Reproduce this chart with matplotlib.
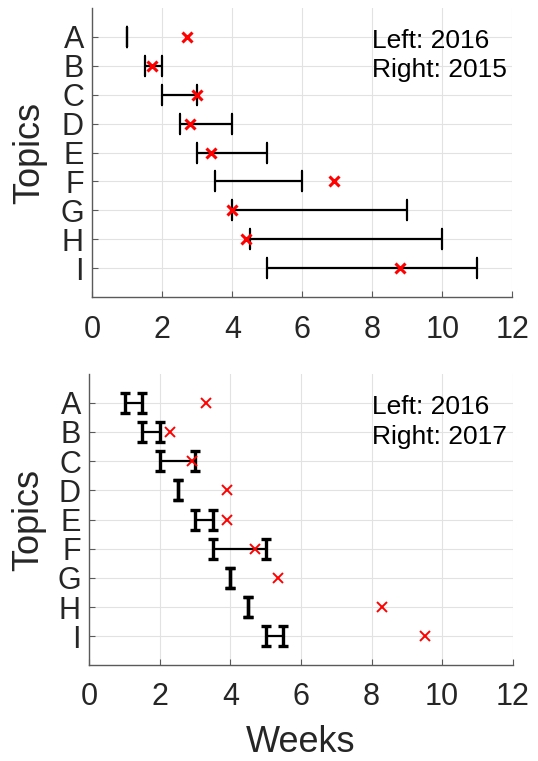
import matplotlib.pyplot as plt
from matplotlib.path import Path

plt.rcParams['font.family'] = ['Liberation Sans', 'DejaVu Sans']

topics = ['A', 'B', 'C', 'D', 'E', 'F', 'G', 'H', 'I']
ypos = list(range(1, 10))

# upper panel: bar from left end to right end, red cross (weeks)
top_left = [1, 1.5, 2, 2.5, 3, 3.5, 4, 4.5, 5]
top_right = [1, 2, 3, 4, 5, 6, 9, 10, 11]
top_cross = [2.7, 1.7, 3.0, 2.8, 3.4, 6.9, 4.0, 4.4, 8.8]

# lower panel
bot_left = [1, 1.5, 2, 2.5, 3, 3.5, 4, 4.5, 5]
bot_right = [1.5, 2, 3, 2.5, 3.5, 5, 4, 4.5, 5.5]
bot_cross = [3.3, 2.3, 2.9, 3.9, 3.9, 4.7, 5.35, 8.3, 9.5]

xticks = [0, 2, 4, 6, 8, 10, 12]


#cap marker: vertical stroke with small serifs at both ends
def capMarker(w):
    verts = [(-w, 1), (w, 1), (0, 1), (0, -1), (-w, -1), (w, -1)]
    codes = [Path.MOVETO, Path.LINETO, Path.MOVETO, Path.LINETO, Path.MOVETO, Path.LINETO]
    return Path(verts, codes)


def drawPanel(ax, left, right, cross, legend, serif, capw, crossw, xpad):
    ax.hlines(ypos, left, right, color='k', lw=1.6, zorder=3)
    cap = capMarker(serif)
    ax.plot(left, ypos, ls='none', marker=cap, ms=13.7, mew=capw, color='k', zorder=3)
    ax.plot(right, ypos, ls='none', marker=cap, ms=13.7, mew=capw, color='k', zorder=3)
    ax.plot(cross, ypos, ls='none', marker='x', ms=7, mew=crossw, color='red', zorder=4)

    ax.set_xlim(0, 12)
    ax.set_ylim(10, 0)
    ax.set_xticks(xticks)
    ax.set_yticks(ypos)
    ax.set_yticklabels(topics)
    ax.grid(True, color='#e2e2e2', lw=0.8)
    ax.set_axisbelow(True)
    for s in ['top', 'right']:
        ax.spines[s].set_visible(False)
    for s in ['left', 'bottom']:
        ax.spines[s].set_color('#5a5a5a')
        ax.spines[s].set_linewidth(1)
    ax.tick_params(direction='in', length=4, color='#5a5a5a', labelsize=22, labelcolor='#262626')
    ax.tick_params(axis='x', pad=xpad)
    ax.tick_params(axis='y', pad=6)

    ax.text(8, 1.4, legend[0], fontsize=19, ha='left', va='baseline')
    ax.text(8, 2.4, legend[1], fontsize=19, ha='left', va='baseline')


fig = plt.figure(figsize=(5.38, 7.61), dpi=100)
ax1 = fig.add_axes([0.1716, 0.6097, 0.7807, 0.3798])
ax2 = fig.add_axes([0.166, 0.1255, 0.787, 0.3836])

drawPanel(ax1, top_left, top_right, top_cross, ['Left: 2016', 'Right: 2015'], 0.15, 1.6, 2.2, 13)
drawPanel(ax2, bot_left, bot_right, bot_cross, ['Left: 2016', 'Right: 2017'], 0.5, 2.4, 1.4, 12)

ax1.text(-0.148, 0.5, 'Topics', transform=ax1.transAxes, rotation=90,
         ha='center', va='center', fontsize=26, color='#262626')
ax2.text(-0.142, 0.5, 'Topics', transform=ax2.transAxes, rotation=90,
         ha='center', va='center', fontsize=26, color='#262626')
ax2.text(0.5, -0.298, 'Weeks', transform=ax2.transAxes, ha='center', va='baseline',
         fontsize=26, color='#262626')

fig.savefig('out.png', dpi=100)
